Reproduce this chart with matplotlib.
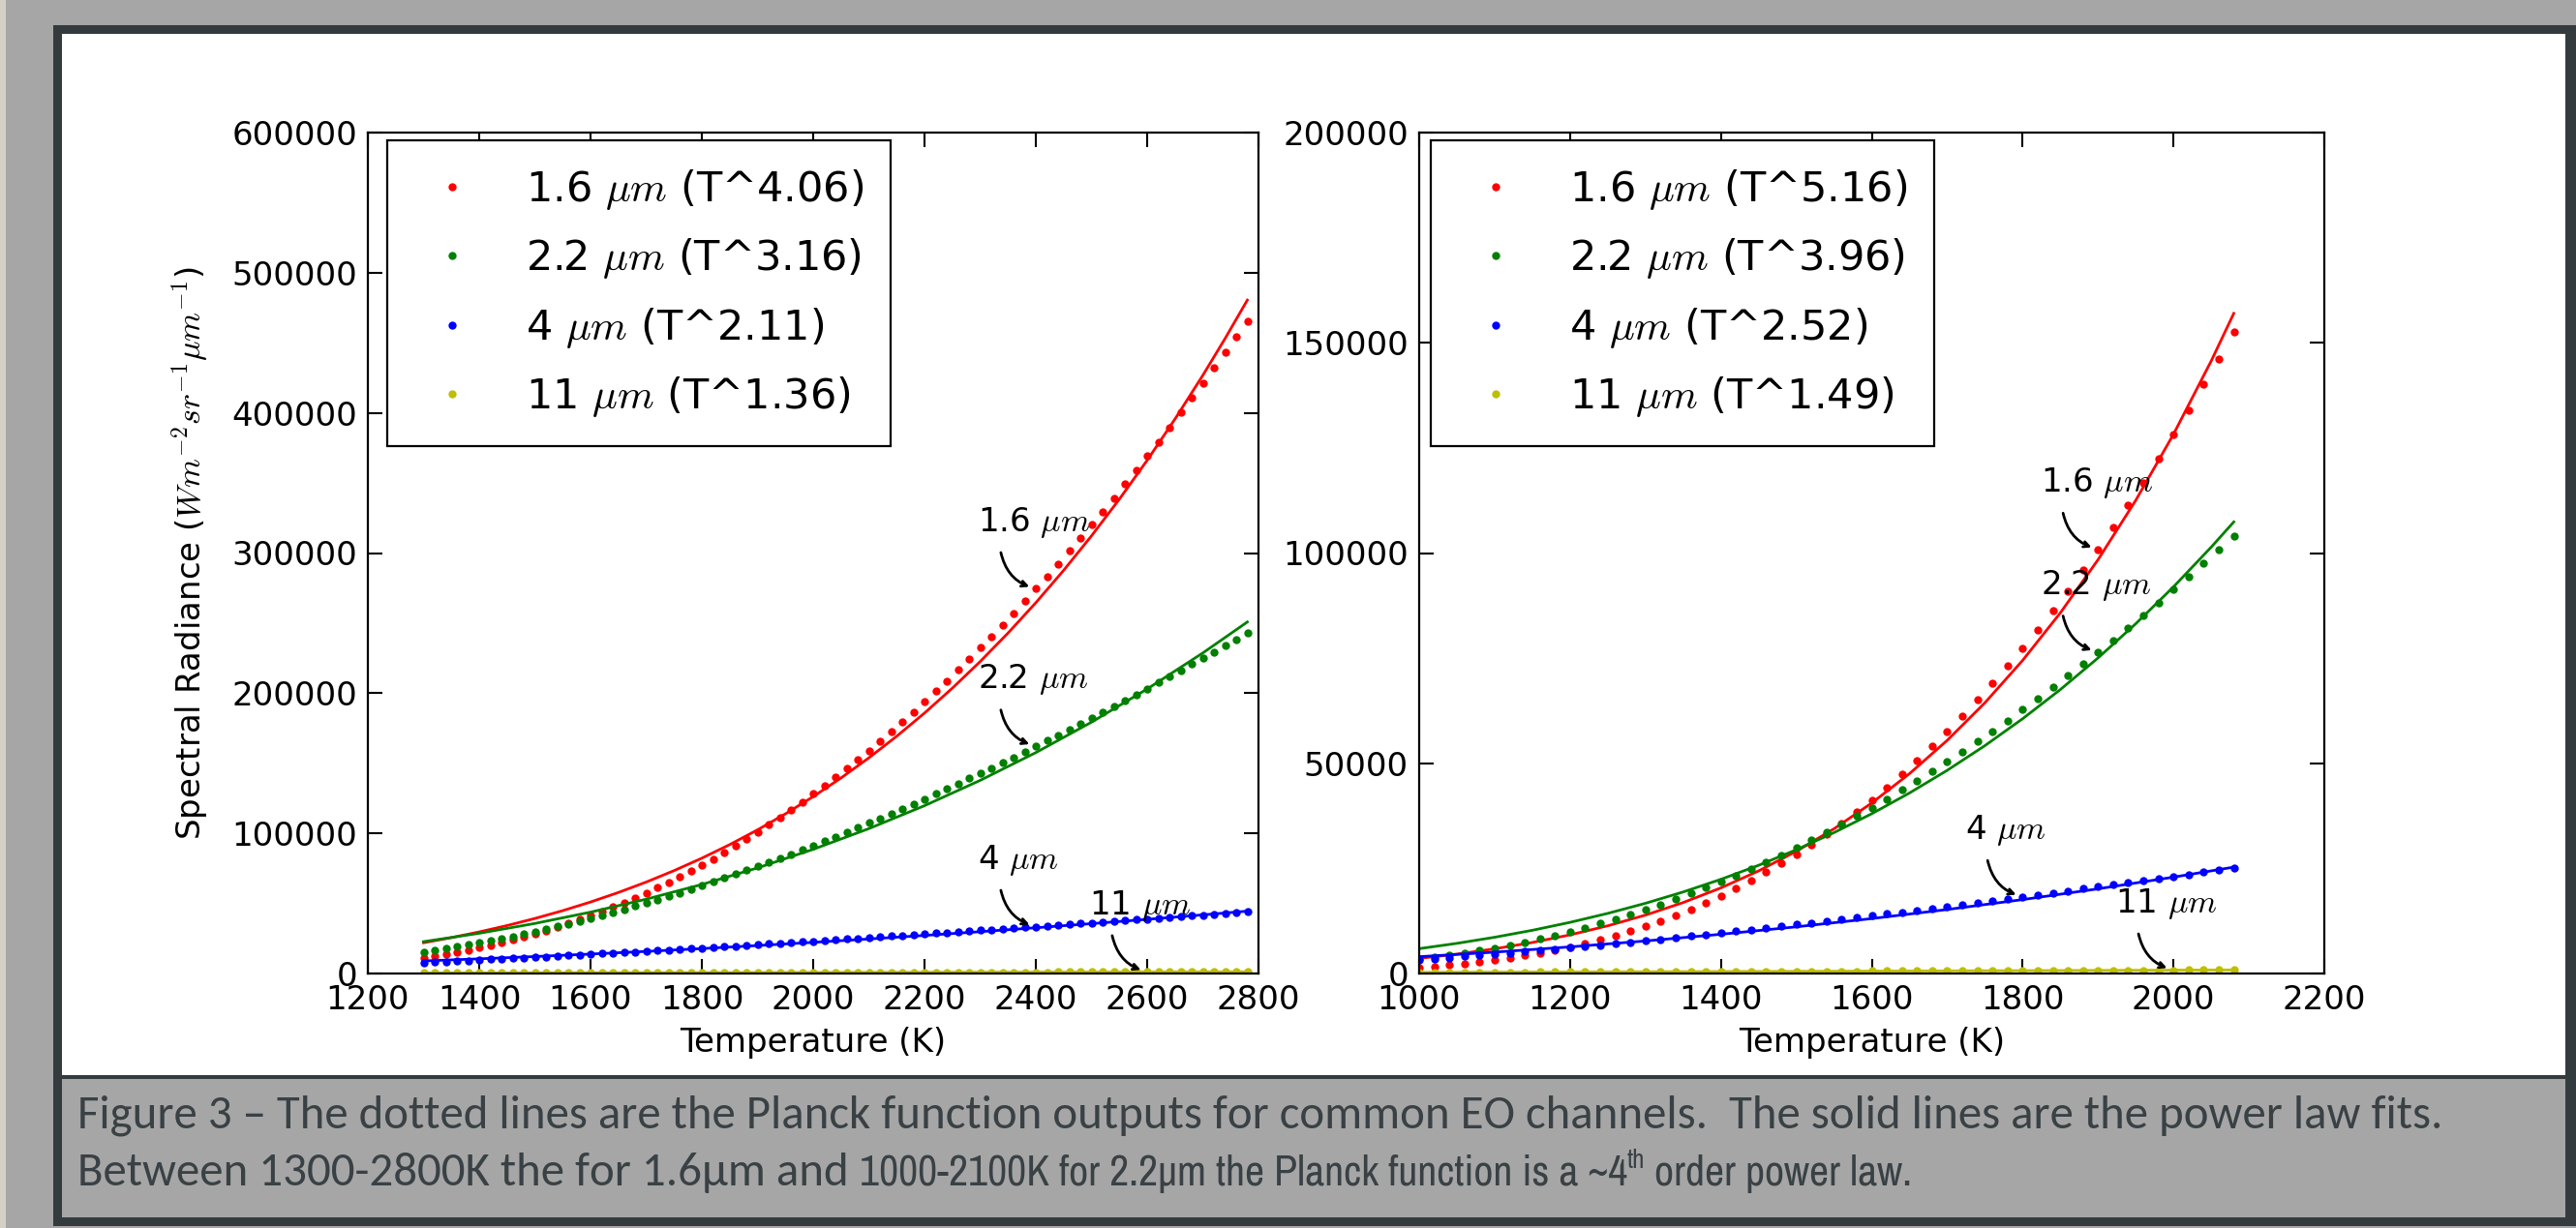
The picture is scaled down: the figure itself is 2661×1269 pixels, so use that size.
from __future__ import annotations

import matplotlib

matplotlib.use("Agg")

import matplotlib.pyplot as plt
from matplotlib.patches import Rectangle

# Planck radiance (W m^-2 sr^-1 um^-1), one dot every 20 K
temps = [
    1000, 1020, 1040, 1060, 1080, 1100, 1120, 1140, 1160, 1180,
    1200, 1220, 1240, 1260, 1280, 1300, 1320, 1340, 1360, 1380,
    1400, 1420, 1440, 1460, 1480, 1500, 1520, 1540, 1560, 1580,
    1600, 1620, 1640, 1660, 1680, 1700, 1720, 1740, 1760, 1780,
    1800, 1820, 1840, 1860, 1880, 1900, 1920, 1940, 1960, 1980,
    2000, 2020, 2040, 2060, 2080, 2100, 2120, 2140, 2160, 2180,
    2200, 2220, 2240, 2260, 2280, 2300, 2320, 2340, 2360, 2380,
    2400, 2420, 2440, 2460, 2480, 2500, 2520, 2540, 2560, 2580,
    2600, 2620, 2640, 2660, 2680, 2700, 2720, 2740, 2760, 2780,
]
planck_16 = [
    1413, 1685, 1997, 2350, 2750, 3200, 3703, 4264, 4885, 5571,
    6326, 7153, 8057, 9041, 10108, 11263, 12509, 13850, 15288, 16828,
    18472, 20224, 22087, 24064, 26157, 28370, 30704, 33164, 35750, 38465,
    41311, 44291, 47407, 50658, 54049, 57580, 61252, 65067, 69027, 73131,
    77383, 81782, 86328, 91024, 95868, 100862, 106007, 111302, 116749, 122348,
    128095, 133995, 140047, 146248, 152603, 159106, 165762, 172566, 179521, 186626,
    193879, 201280, 208831, 216526, 224370, 232358, 240494, 248769, 257192, 265757,
    274462, 283310, 292297, 301422, 310688, 320091, 329628, 339301, 349111, 359053,
    369123, 379332, 389670, 400131, 410724, 421448, 432291, 443260, 454354, 465576,
]
planck_22 = [
    3344, 3802, 4302, 4845, 5432, 6066, 6748, 7478, 8258, 9089,
    9973, 10909, 11900, 12944, 14044, 15201, 16413, 17682, 19009, 20393,
    21835, 23335, 24893, 26509, 28183, 29916, 31707, 33555, 35462, 37426,
    39447, 41525, 43660, 45852, 48099, 50402, 52761, 55174, 57643, 60163,
    62738, 65366, 68046, 70779, 73562, 76397, 79283, 82215, 85199, 88230,
    91310, 94438, 97612, 100832, 104099, 107410, 110767, 114166, 117610, 121096,
    124625, 128195, 131806, 135458, 139151, 142883, 146653, 150462, 154310, 158193,
    162115, 166071, 170065, 174093, 178159, 182256, 186387, 190553, 194749, 198980,
    203242, 207537, 211864, 216219, 220605, 225023, 229467, 233940, 238443, 242974,
]
planck_4 = [
    3278, 3524, 3780, 4044, 4316, 4596, 4884, 5179, 5482, 5793,
    6111, 6435, 6767, 7105, 7450, 7802, 8159, 8522, 8892, 9267,
    9648, 10034, 10425, 10822, 11224, 11630, 12042, 12458, 12879, 13304,
    13733, 14166, 14604, 15046, 15491, 15941, 16393, 16850, 17310, 17774,
    18241, 18711, 19184, 19661, 20140, 20622, 21108, 21595, 22086, 22580,
    23076, 23574, 24076, 24579, 25085, 25593, 26104, 26616, 27131, 27649,
    28167, 28688, 29211, 29736, 30263, 30792, 31322, 31854, 32389, 32925,
    33461, 34001, 34541, 35083, 35627, 36172, 36718, 37266, 37816, 38367,
    38918, 39472, 40027, 40582, 41140, 41698, 42258, 42819, 43380, 43943,
]
planck_11 = [
    274, 284, 294, 304, 314, 324, 334, 344, 354, 364,
    375, 385, 395, 406, 416, 426, 437, 447, 458, 468,
    479, 489, 500, 510, 521, 531, 542, 553, 563, 574,
    585, 595, 606, 617, 628, 638, 649, 660, 671, 682,
    692, 703, 714, 725, 736, 747, 758, 768, 779, 790,
    801, 812, 823, 834, 845, 856, 867, 878, 889, 900,
    911, 922, 933, 944, 955, 966, 977, 989, 1000, 1010,
    1021, 1032, 1043, 1054, 1065, 1076, 1087, 1098, 1109, 1120,
    1131, 1142, 1153, 1164, 1176, 1187, 1198, 1209, 1220, 1231,
]

# power law fits, left panel (1300-2800 K)
left_fit_t_dense = [1300, 1350, 1400, 1450, 1500, 1550, 1600, 1650, 1700, 1750, 1800,
                    1850, 1900, 1950, 2000, 2050, 2100, 2150, 2200, 2250, 2300, 2350,
                    2400, 2450, 2500, 2550, 2600, 2650, 2700, 2740, 2780]
left_fit_16 = [21952, 25588, 29659, 34200, 39247, 44835, 51004, 57791, 65237, 73385, 82276,
               91958, 102474, 113871, 126199, 139506, 153845, 169267, 185827, 203578, 222580,
               242889, 264562, 287666, 312254, 338396, 366155, 395593, 426780, 453043, 480500]
left_fit_t = [1300, 1400, 1500, 1600, 1700, 1800, 1900, 2000, 2100, 2200, 2300, 2400,
              2500, 2600, 2700, 2780]
left_fit_22 = [22709, 28702, 35694, 43769, 53011, 63505, 75337, 88593, 103362, 119730,
               137787, 157621, 179323, 202984, 228694, 250800]
left_fit_4 = [8951, 10465, 12105, 13871, 15764, 17785, 19934, 22213, 24621, 27160, 29831,
              32634, 35570, 38638, 41841, 44500]
left_fit_11 = [441, 488, 536, 585, 635, 687, 739, 792, 847, 902, 958, 1015, 1073, 1132,
               1192, 1240]

# power law fits, right panel (1000-2100 K)
right_fit_t_dense = [1000, 1050, 1100, 1150, 1200, 1250, 1300, 1350, 1400, 1450, 1500, 1550,
                     1600, 1650, 1700, 1750, 1800, 1850, 1900, 1950, 2000, 2050, 2080]
right_fit_16 = [3587, 4613, 5865, 7377, 9189, 11344, 13888, 16874, 20357, 24398, 29062, 34420,
                40546, 47524, 55438, 64383, 74456, 85763, 98415, 112531, 128235, 145661, 157000]
right_fit_22 = [5908, 7168, 8618, 10276, 12163, 14297, 16699, 19391, 22395, 25733, 29430, 33511,
                38001, 42925, 48312, 54188, 60583, 67526, 75048, 83179, 91950, 101396, 107400]
right_fit_t = [1000, 1100, 1200, 1300, 1400, 1500, 1600, 1700, 1800, 1900, 2000, 2080]
right_fit_4 = [3996, 5081, 6326, 7740, 9330, 11101, 13061, 15217, 17575, 20140, 22919, 25300]
right_fit_11 = [285, 329, 375, 422, 471, 522, 575, 629, 685, 743, 802, 850]

channels = ["1.6", "2.2", "4", "11"]
left_exponents = ["4.06", "3.16", "2.11", "1.36"]
right_exponents = ["5.16", "3.96", "2.52", "1.49"]
left_arrow_temps = [2400, 2400, 2400, 2600]
right_arrow_temps = [1900, 1900, 1800, 2000]

caption_1 = ("Figure 3 \u2013 The dotted lines are the Planck function outputs for common EO "
             "channels.  The solid lines are the power law fits.")
caption_2a = "Between 1300-2800K the for 1.6\u00b5m and"
caption_2b = "1000-2100K for 2.2\u00b5m the Planck function is a ~4"
caption_2sup = "th"
caption_2c = "order power law."

COLORS = ["#ff0000", "#008000", "#0000ff", "#bfbf00"]
BG = "#a6a6a6"
FRAME = "#333b3e"
CAP = "#394145"
FS = 24.5
W, H, DPI = 2661, 1269, 100

plt.rcParams["mathtext.fontset"] = "cm"
plt.rcParams["font.family"] = ["DejaVu Sans"]

fig = plt.figure(figsize=(W / DPI, H / DPI), dpi=DPI, facecolor=BG)


def px_rect(x0, y0, x1, y1, color):
    fig.patches.append(Rectangle((x0 / W, 1 - y1 / H), (x1 - x0) / W, (y1 - y0) / H,
                                 transform=fig.transFigure, facecolor=color,
                                 edgecolor="none", zorder=-10))


px_rect(0, 0, 6, H, "#d5d0c6")
px_rect(55, 26, W, 1267, FRAME)
px_rect(64, 35, 2650, 1111, "white")
px_rect(64, 1115, 2650, 1258, BG)

ax1 = fig.add_axes([380 / W, 1 - 1006 / H, 920 / W, 869 / H])
ax2 = fig.add_axes([1466 / W, 1 - 1006 / H, 935 / W, 869 / H])


def draw_panel(ax, t_lo, t_hi, fits, exponents, arrow_temps, leg_dx):
    idx = [i for i, t in enumerate(temps) if t_lo <= t <= t_hi]
    handles = []
    series_all = [planck_16, planck_22, planck_4, planck_11]
    for ch, col, series, (ft, fy), ex, at in zip(channels, COLORS, series_all, fits,
                                                 exponents, arrow_temps):
        xs = [temps[i] for i in idx]
        ys = [series[i] for i in idx]
        h, = ax.plot(xs, ys, linestyle="none", marker="o", ms=6, mew=0, color=col,
                     label=f"{ch} $\\mu m$ (T^{ex})")
        ax.plot(ft, fy, color=col, lw=2)
        handles.append(h)

        v = series[temps.index(at)]
        ax.annotate(f"{ch} $\\mu m$", xy=(at, v), xytext=(-43, 43),
                    textcoords="offset points", fontsize=FS, ha="left", va="baseline")
        ax.annotate("", xy=(at, v), xytext=(-26, 27), textcoords="offset points",
                    arrowprops=dict(arrowstyle="->", connectionstyle="arc3,rad=0.3",
                                    color="black", lw=2, shrinkA=0, shrinkB=5))

    ax_w = ax.get_position().width * W
    leg = ax.legend(handles=handles, loc="upper left", numpoints=1, fontsize=31,
                    bbox_to_anchor=(leg_dx / ax_w, 1 - 8.5 / 869), borderaxespad=0,
                    fancybox=False, framealpha=1, edgecolor="black",
                    borderpad=0.64, handlelength=1.84,
                    handletextpad=0.85, labelspacing=0.59)
    leg.get_frame().set_linewidth(1.6)

    ax.tick_params(direction="in", top=True, right=True, length=11, width=1.5,
                   labelsize=FS, pad=8)
    for s in ax.spines.values():
        s.set_linewidth(1.6)
    ax.set_xlabel("Temperature (K)", fontsize=FS, labelpad=8)


draw_panel(ax1, 1300, 2780,
           [(left_fit_t_dense, left_fit_16), (left_fit_t, left_fit_22),
            (left_fit_t, left_fit_4), (left_fit_t, left_fit_11)],
           left_exponents, left_arrow_temps, 20)
ax1.set_xlim(1200, 2800)
ax1.set_ylim(0, 600000)
ax1.set_xticks(range(1200, 2801, 200))
ax1.set_yticks(range(0, 600001, 100000))
ax1.set_ylabel("Spectral Radiance ($Wm^{-2} sr^{-1} \\mu m^{-1}$)", fontsize=FS, labelpad=16)

draw_panel(ax2, 1000, 2080,
           [(right_fit_t_dense, right_fit_16), (right_fit_t_dense, right_fit_22),
            (right_fit_t, right_fit_4), (right_fit_t, right_fit_11)],
           right_exponents, right_arrow_temps, 12)
ax2.set_xlim(1000, 2200)
ax2.set_ylim(0, 200000)
ax2.set_xticks(range(1000, 2201, 200))
ax2.set_yticks(range(0, 200001, 50000))

# caption: sizes fitted to the line widths of the reference
renderer = fig.canvas.get_renderer()


def width_px(s, family, size):
    t = fig.text(0, 0, s, family=family, fontsize=size)
    w = t.get_window_extent(renderer).width
    t.remove()
    return w


calibri = ["Carlito", "Lato", "DejaVu Sans"]
narrow = ["Archivo Narrow", "Liberation Sans", "DejaVu Sans"]

size_1 = 30 * (2522 - 80) / width_px(caption_1, calibri, 30)
fig.text(80 / W, 1 - 1166 / H, caption_1, family=calibri, fontsize=size_1, color=CAP)
fig.text(80 / W, 1 - 1225 / H, caption_2a, family=calibri, fontsize=size_1, color=CAP)

space_a = width_px("x x", calibri, size_1) - width_px("xx", calibri, size_1)
x_b = 80 + width_px(caption_2a, calibri, size_1) + space_a
sup_k = 0.62
ref = 30
total = (width_px(caption_2b, narrow, ref) + width_px(caption_2sup, narrow, ref * sup_k)
         + width_px("x " + caption_2c, narrow, ref) - width_px("x", narrow, ref))
size_b = ref * (1974 - x_b) / total
fig.text(x_b / W, 1 - 1225 / H, caption_2b, family=narrow, fontsize=size_b, color=CAP)
x_s = x_b + width_px(caption_2b, narrow, size_b)
fig.text(x_s / W, 1 - (1225 - 0.42 * size_b * DPI / 72) / H, caption_2sup, family=narrow,
         fontsize=size_b * sup_k, color=CAP)
x_c = x_s + width_px(caption_2sup, narrow, size_b * sup_k)
x_c += width_px("x x", narrow, size_b) - width_px("xx", narrow, size_b)
fig.text(x_c / W, 1 - 1225 / H, caption_2c, family=narrow, fontsize=size_b, color=CAP)

fig.savefig("out.png", dpi=DPI, facecolor=BG)
